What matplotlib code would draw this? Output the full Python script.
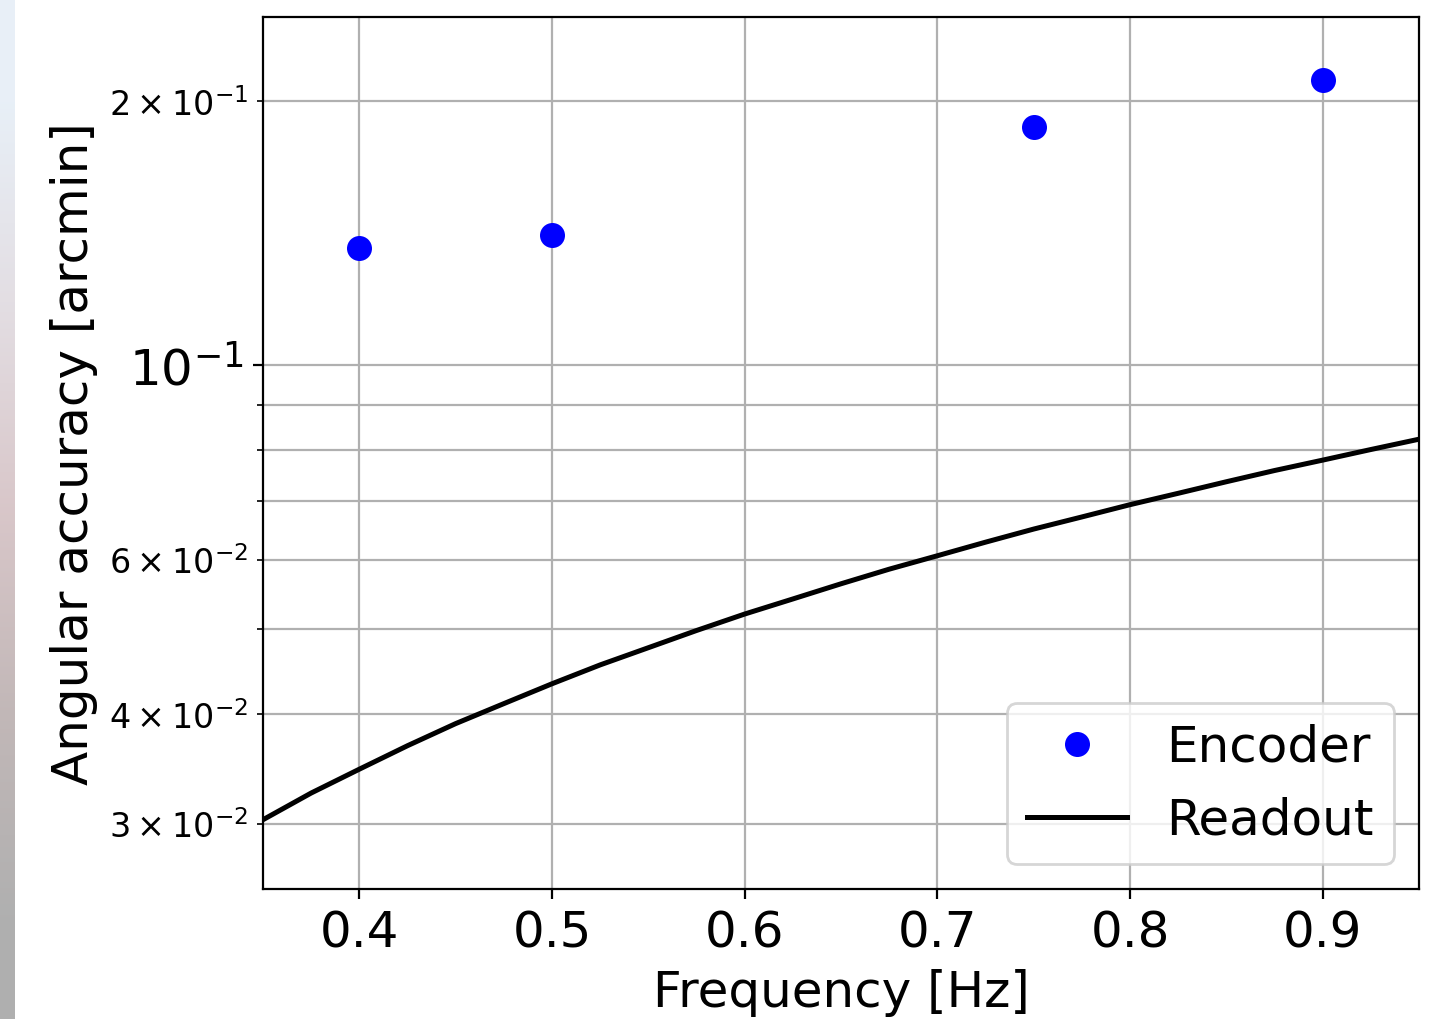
import numpy as np
import matplotlib.pyplot as plt

# Encoder measurements
enc_freq = [0.4, 0.5, 0.75, 0.9]
enc_acc = [0.1359, 0.1406, 0.1868, 0.2113]

# Readout curve, values
ro_freq = [0.35, 0.375, 0.40, 0.425, 0.45, 0.475, 0.50, 0.525, 0.55, 0.575,
           0.60, 0.625, 0.65, 0.675, 0.70, 0.725, 0.75, 0.775, 0.80, 0.825,
           0.85, 0.875, 0.90, 0.925, 0.95]
ro_acc = [0.0303, 0.0325, 0.0346, 0.0368, 0.0390, 0.0411, 0.0433, 0.0455, 0.0476, 0.0498,
          0.0520, 0.0541, 0.0563, 0.0585, 0.0606, 0.0628, 0.0650, 0.0671, 0.0693, 0.0714,
          0.0736, 0.0758, 0.0779, 0.0801, 0.0823]

fig = plt.figure(figsize=(7.2, 5.1), dpi=200)

# screenshot strip on the left edge
strip = fig.add_axes([0, 0, 15 / 1440, 1])
grad = np.array([[0.91, 0.94, 0.97], [0.89, 0.87, 0.89], [0.85, 0.78, 0.79],
                 [0.76, 0.72, 0.72], [0.69, 0.69, 0.69]])
strip.imshow(grad[:, None, :], aspect="auto", interpolation="bilinear")
strip.axis("off")

ax = fig.add_axes([263 / 1440, 1 - 890 / 1020, (1419 - 263) / 1440, (890 - 18) / 1020])
ax.plot(enc_freq, enc_acc, "o", color="blue", markersize=8, label="Encoder")
ax.plot(ro_freq, ro_acc, "-", color="black", linewidth=1.8, label="Readout")
ax.set_yscale("log")
ax.set_xlim(0.35, 0.95)
ax.set_ylim(0.02526, 0.2494)
ax.grid(True, which="major", axis="x")
ax.grid(True, which="both", axis="y")
ax.set_xlabel("Frequency [Hz]", fontsize=18)
ax.set_ylabel("Angular accuracy [arcmin]", fontsize=18)
ax.tick_params(which="major", labelsize=18)
ax.tick_params(which="minor", labelsize=12)
ax.legend(loc="lower right", fontsize=18)

fig.savefig("out.png", dpi=200)
